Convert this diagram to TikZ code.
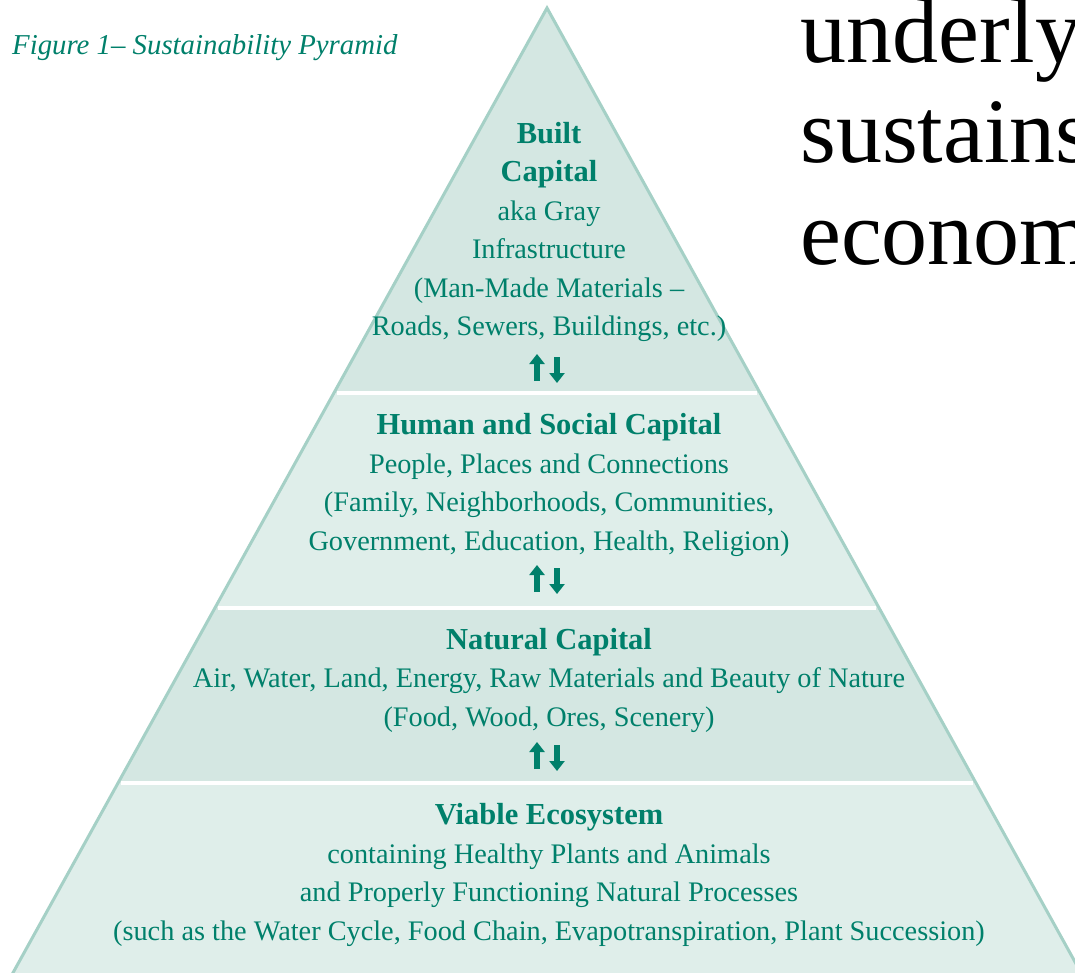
\documentclass[tikz,border=0pt]{standalone}
\usepackage{fontspec}
\setmainfont{Liberation Serif}
\newfontfamily\bodyfont{Liberation Serif}
\usetikzlibrary{arrows.meta,calc}
\definecolor{pyrteal}{HTML}{00806B}
\definecolor{pyredge}{HTML}{A5D0C6}
\definecolor{banddark}{HTML}{D4E7E2}
\definecolor{bandlight}{HTML}{DFEEEA}
\newcommand{\bandhead}[1]{{\fontsize{30.5}{38.5}\selectfont\bfseries #1}}
\tikzset{%
  band/.style     = {fill=#1, draw=none},%
  bandtext/.style = {align=center, text=pyrteal, inner sep=0pt,%
                     font=\fontsize{28.3}{38.5}\selectfont},%
  divider/.style  = {draw=white, line width=4pt, shorten <=3pt, shorten >=3pt},%
  flow/.style     = {draw=pyrteal, line width=6pt,%
                     -{Triangle[width=15pt,length=10pt]}},%
  bodytext/.style = {anchor=base west, inner sep=0pt,%
                     font=\bodyfont\fontsize{92}{100}\selectfont},%
  updown/.pic     = {\draw[flow] (-10,14) -- (-10,-13);
                     \draw[flow] (10,-10) -- (10,16);}%
}

\begin{document}
\begin{tikzpicture}[x=1pt,y=-1pt]
	\clip (0,0) rectangle (1075,973);
	\fill[white] (0,0) rectangle (1075,973);
	\coordinate (apex) at (547,8);
	\coordinate (bl) at (9,980);
	\coordinate (br) at (1085,980);
	\coordinate (l1) at ($(apex)!0.3961!(bl)$);
	\coordinate (r1) at ($(apex)!0.3961!(br)$);
	\coordinate (l2) at ($(apex)!0.6173!(bl)$);
	\coordinate (r2) at ($(apex)!0.6173!(br)$);
	\coordinate (l3) at ($(apex)!0.7973!(bl)$);
	\coordinate (r3) at ($(apex)!0.7973!(br)$);
	% the four layers
	\path[band=banddark] (apex) -- (r1) -- (l1) -- cycle;
	\path[band=bandlight] (l1) -- (r1) -- (r2) -- (l2) -- cycle;
	\path[band=banddark] (l2) -- (r2) -- (r3) -- (l3) -- cycle;
	\path[band=bandlight] (l3) -- (r3) -- (br) -- (bl) -- cycle;
	\draw[divider] (l1) -- (r1);
	\draw[divider] (l2) -- (r2);
	\draw[divider] (l3) -- (r3);
	\draw[pyredge, line width=3pt] (bl) -- (apex) -- (br);
	% texts
	\node[bandtext] (built) at (549,232)
		{\bandhead{Built}\\ \bandhead{Capital}\\ aka Gray\\ Infrastructure\\
		 (Man-Made Materials --\\ Roads, Sewers, Buildings, etc.)};
	\node[bandtext] (human) at (549,485)
		{\bandhead{Human and Social Capital}\\ People, Places and Connections\\
		 (Family, Neighborhoods, Communities,\\ Government, Education, Health, Religion)};
	\node[bandtext] (natural) at (549,680)
		{\bandhead{Natural Capital}\\ Air, Water, Land, Energy, Raw Materials and Beauty of Nature\\
		 (Food, Wood, Ores, Scenery)};
	\node[bandtext] (viable) at (549,875)
		{\bandhead{Viable Ecosystem}\\ containing Healthy Plants and Animals\\
		 and Properly Functioning Natural Processes\\
		 (such as the Water Cycle, Food Chain, Evapotranspiration, Plant Succession)};
	\pic (flowa) at (547,367) {updown};
	\pic (flowb) at (547,578) {updown};
	\pic (flowc) at (547,755) {updown};
	\node[anchor=west, inner sep=0pt, text=pyrteal, font=\itshape\fontsize{28.8}{30}\selectfont]
		(caption) at (12,48) {Figure 1-- Sustainability Pyramid};
	\node[bodytext] (linea) at (800,63) {underly};
	\node[bodytext] (lineb) at (800,163) {sustains};
	\node[bodytext] (linec) at (800,265) {econom};
\end{tikzpicture}
\end{document}
